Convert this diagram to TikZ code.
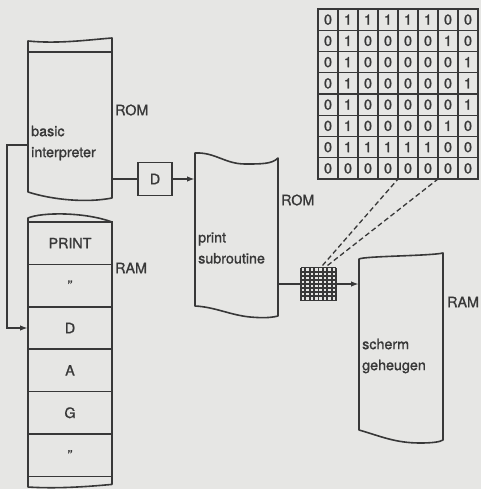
\documentclass[tikz,border=0pt]{standalone}
\usepackage{fontspec}
\setmainfont{TeX Gyre Heros}[FakeBold=1.2]
\usepackage{xcolor}
\usepackage{tikz}
\usetikzlibrary{positioning, arrows.meta, calc}

\definecolor{paper}{HTML}{E6E6E4}
\definecolor{ink}{HTML}{383838}

\begin{document}
\begin{tikzpicture}[
        x=1pt, y=-1pt,
        font=\fontsize{14.3}{17}\selectfont,
        line/.style={draw=ink, line width=1.6pt, line join=round},
        conn/.style={draw=ink, line width=1.6pt, -{Latex[length=8pt, width=5.5pt]}},
        blk/.style={minimum width=84pt, inner sep=0pt, outer sep=0pt, draw=none},
        cell/.style={draw=ink, line width=1.6pt, minimum width=84pt, minimum height=42.4pt, inner sep=0pt, outer sep=0pt, text=ink},
        bit/.style={draw=ink, line width=1.3pt, minimum width=20pt, minimum height=21.25pt, inner sep=0pt, outer sep=0pt, text=ink},
        lbl/.style={text=ink, inner sep=0pt, anchor=west},
        txt/.style={text=ink, inner sep=0pt, align=left, anchor=west, font=\fontsize{14.3}{21}\selectfont},
    ]
    \fill[paper] (0,0) rectangle (481,489);
    \useasboundingbox (0,0) rectangle (481,489);

    % ---- ROM: basic interpreter ----
    \node[blk, minimum height=158pt] (rom) at (70,120) {};
    \draw[line] (rom.north west) .. controls +(30,3) and +(-25,2) .. ($(rom.north east)+(0,-3)$)
        -- ($(rom.south east)+(0,-1)$) .. controls +(-25,5) and +(25,8) .. ($(rom.south west)+(0,-7)$) -- cycle;
    \draw[line] ($(rom.north west)+(0,11)$) -- ($(rom.north east)+(0,11)$);
    \node[txt] (interp) at (31,143) {basic\\interpreter};
    \node[lbl, right=3pt of rom.east, yshift=10pt] (romlbl) {ROM};

    % ---- RAM: program line ----
    \node[cell, anchor=north] (c1) at (70,222) {PRINT};
    \node[cell, below=0pt of c1] (c2) {”};
    \node[cell, below=0pt of c2] (c3) {D};
    \node[cell, below=0pt of c3] (c4) {A};
    \node[cell, below=0pt of c4] (c5) {G};
    \node[cell, below=0pt of c5] (c6) {”};
    \draw[line] ($(c1.north west)+(0,-4)$) .. controls +(14,-6) and +(-27,-10) .. (c1.north east)
        -- ($(c6.south east)+(0,8)$) .. controls +(-22,2) and +(30,2) .. ($(c6.south west)+(0,10.6)$) -- cycle;
    \node[lbl] (ramlbl) at (115,268) {RAM};

    % ---- D ----
    \node[draw=ink, line width=1.6pt, minimum width=34pt, minimum height=33pt, text=ink] (dbox) at (155,179) {D};

    % ---- ROM: print subroutine ----
    \node[blk, minimum width=83pt, minimum height=165pt] (prt) at (236.5,235.5) {};
    \draw[line] (prt.north west) .. controls +(20,-1) and +(-20,0) .. ($(prt.north west)+(50,11)$)
        .. controls +(17,0) and +(-6,6) .. ($(prt.north east)+(0,5)$)
        -- ($(prt.south east)+(0,-2)$) .. controls +(-8,2) and +(12,1) .. ($(prt.south west)+(55,-1)$)
        .. controls +(-20,-2) and +(20,1) .. ($(prt.south west)+(0,-12)$) -- cycle;
    \node[txt] (prttxt) at (198,248) {print\\subroutine};
    \node[lbl] (prtlbl) at (281,200) {ROM};

    % ---- RAM: scherm geheugen ----
    \node[blk, minimum height=189pt] (scr) at (401,347.5) {};
    \draw[line] ($(scr.north west)+(0,6)$) .. controls +(6,-3) and +(-13,3) .. (scr.north east)
        -- ($(scr.south east)+(0,-2)$) .. controls +(-3,2) and +(12,0) .. ($(scr.south west)+(61,1)$)
        .. controls +(-25,0) and +(21,6) .. ($(scr.south west)+(0,-12)$) -- cycle;
    \node[txt] (scrtxt) at (362,356) {scherm\\geheugen};
    \node[lbl] (scrlbl) at (447,302) {RAM};

    % ---- small character grid ----
    \node[minimum width=35pt, minimum height=33pt, inner sep=0pt, outer sep=0pt, fill=paper] (pix) at (318.5,284) {};
    \foreach \k in {0,...,8} {
        \draw[ink, line width=1.8pt] ($(pix.north west)!\k/8!(pix.north east)$) -- ($(pix.south west)!\k/8!(pix.south east)$);
        \draw[ink, line width=1.8pt] ($(pix.north west)!\k/8!(pix.south west)$) -- ($(pix.north east)!\k/8!(pix.south east)$);
    }

    % ---- bit pattern of D ----
    \foreach \bitrow [count=\rr] in {{0,1,1,1,1,1,0,0},{0,1,0,0,0,0,1,0},{0,1,0,0,0,0,0,1},{0,1,0,0,0,0,0,1},{0,1,0,0,0,0,0,1},{0,1,0,0,0,0,1,0},{0,1,1,1,1,1,0,0},{0,0,0,0,0,0,0,0}}
        \foreach \val [count=\cc] in \bitrow
            \node[bit] (b\rr\cc) at ({308+20*\cc}, {-1.625+21.25*\rr}) {\val};
    \draw[ink, line width=1.8pt] (b11.north west) rectangle (b88.south east);

    % ---- connectors ----
    \draw[conn] ([yshift=-25pt]rom.west) -- ++(-21,0) |- (c3.west);
    \draw[line] (dbox.west -| rom.east) -- (dbox.west);
    \draw[conn] (dbox.east) -- (dbox.east -| prt.west);
    \draw[line] (pix.west -| prt.east) -- (pix.west);
    \draw[conn] (pix.east) -- (pix.east -| scr.west);
    \draw[ink, line width=1.3pt, dash pattern=on 5pt off 3pt] ([xshift=4pt, yshift=2pt]pix.north) -- (b84.south east);
    \draw[ink, line width=1.3pt, dash pattern=on 5pt off 3pt] ([xshift=9pt, yshift=2pt]pix.north) -- (b86.south east);
\end{tikzpicture}
\end{document}
